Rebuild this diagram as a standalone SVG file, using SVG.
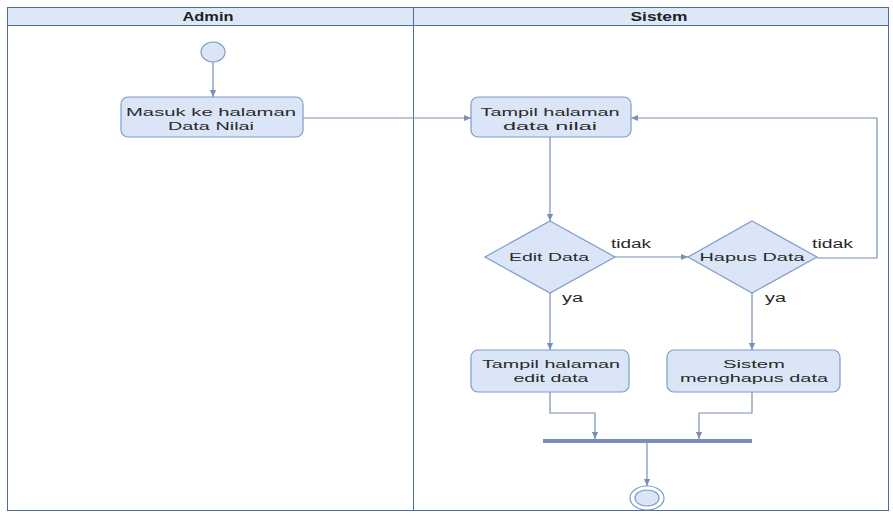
<svg xmlns="http://www.w3.org/2000/svg" width="893" height="516" viewBox="0 0 893 516">
  <style>
    .lane { fill: #ffffff; stroke: #4f6c9a; stroke-width: 1; }
    .head { fill: #dde8f7; stroke: #4f6c9a; stroke-width: 1; }
    .htxt { font-family: "Liberation Sans", Arial, sans-serif; font-size: 12px; font-weight: bold; fill: #222; text-anchor: middle; }
    .node { fill: #dae6f8; stroke: #7f9cc6; stroke-width: 1.2; }
    .txt { font-family: "Liberation Sans", Arial, sans-serif; font-size: 11.5px; fill: #2a2a2a; text-anchor: middle; }
    .lbl { font-family: "Liberation Sans", Arial, sans-serif; font-size: 12px; fill: #2a2a2a; }
    .edge { fill: none; stroke: #7890b4; stroke-width: 1.2; }
    .bar { fill: #7890b4; }
  </style>
  <defs>
    <marker id="arr" viewBox="0 0 10 10" refX="9" refY="5" markerWidth="8" markerHeight="8" orient="auto" markerUnits="userSpaceOnUse">
      <path d="M0,1 L9,5 L0,9 Z" fill="#7890b4"/>
    </marker>
  </defs>

  <!-- swimlanes -->
  <g id="lanes">
    <rect class="lane" x="7.5" y="7.5" width="881" height="503"/>
    <rect class="head" x="7.5" y="7.5" width="881" height="18"/>
    <line x1="413.5" y1="7.5" x2="413.5" y2="510.5" stroke="#4f6c9a" stroke-width="1"/>
    <text class="htxt" x="208" y="21" textLength="51" lengthAdjust="spacingAndGlyphs">Admin</text>
    <text class="htxt" x="659" y="21" textLength="57" lengthAdjust="spacingAndGlyphs">Sistem</text>
  </g>

  <!-- connectors -->
  <g id="connectors">
    <path class="edge" d="M213,62 L213,97" marker-end="url(#arr)"/>
    <path class="edge" d="M303,118 L471,118" marker-end="url(#arr)"/>
    <path class="edge" d="M550,137 L550,221" marker-end="url(#arr)"/>
    <path class="edge" d="M615,257 L688,257" marker-end="url(#arr)"/>
    <path class="edge" d="M817,258 L877,258 L877,118 L631,118" marker-end="url(#arr)"/>
    <path class="edge" d="M550,293 L550,350" marker-end="url(#arr)"/>
    <path class="edge" d="M752,293 L752,350" marker-end="url(#arr)"/>
    <path class="edge" d="M550,392 L550,413 L595,413 L595,439" marker-end="url(#arr)"/>
    <path class="edge" d="M752,392 L752,413 L699,413 L699,439" marker-end="url(#arr)"/>
    <path class="edge" d="M647,443 L647,486" marker-end="url(#arr)"/>
    <text class="lbl" x="611" y="248" textLength="40" lengthAdjust="spacingAndGlyphs">tidak</text>
    <text class="lbl" x="812" y="248" textLength="41" lengthAdjust="spacingAndGlyphs">tidak</text>
    <text class="lbl" x="562" y="302" textLength="21" lengthAdjust="spacingAndGlyphs">ya</text>
    <text class="lbl" x="765" y="302" textLength="21" lengthAdjust="spacingAndGlyphs">ya</text>
  </g>

  <g id="start">
    <ellipse class="node" cx="213" cy="52" rx="12" ry="10"/>
  </g>

  <g id="masuk">
    <rect class="node" x="121" y="97" width="182" height="40" rx="7"/>
    <text class="txt" x="211" y="116" textLength="170" lengthAdjust="spacingAndGlyphs">Masuk ke halaman</text>
    <text class="txt" x="211" y="130" textLength="86" lengthAdjust="spacingAndGlyphs">Data Nilai</text>
  </g>

  <g id="tampil-nilai">
    <rect class="node" x="471" y="97" width="160" height="40" rx="7"/>
    <text class="txt" x="550" y="116" textLength="139" lengthAdjust="spacingAndGlyphs">Tampil halaman</text>
    <text class="txt" x="550" y="130" textLength="94" lengthAdjust="spacingAndGlyphs">data nilai</text>
  </g>

  <g id="edit-data">
    <polygon class="node" points="550,221 615,257 550,293 485,257"/>
    <text class="txt" x="549" y="261" textLength="80" lengthAdjust="spacingAndGlyphs">Edit Data</text>
  </g>

  <g id="hapus-data">
    <polygon class="node" points="752,221 817,257 752,293 688,257"/>
    <text class="txt" x="752" y="261" textLength="105" lengthAdjust="spacingAndGlyphs">Hapus Data</text>
  </g>

  <g id="tampil-edit">
    <rect class="node" x="471" y="350" width="158" height="42" rx="7"/>
    <text class="txt" x="551" y="368" textLength="138" lengthAdjust="spacingAndGlyphs">Tampil halaman</text>
    <text class="txt" x="551" y="382" textLength="75" lengthAdjust="spacingAndGlyphs">edit data</text>
  </g>

  <g id="menghapus">
    <rect class="node" x="667" y="350" width="173" height="42" rx="7"/>
    <text class="txt" x="754" y="368" textLength="62" lengthAdjust="spacingAndGlyphs">Sistem</text>
    <text class="txt" x="754" y="382" textLength="148" lengthAdjust="spacingAndGlyphs">menghapus data</text>
  </g>

  <g id="join">
    <rect class="bar" x="543" y="439" width="209" height="4"/>
  </g>

  <g id="end">
    <ellipse cx="647" cy="498" rx="17" ry="12" fill="#ffffff" stroke="#7f9cc6" stroke-width="1.2"/>
    <ellipse class="node" cx="647" cy="498" rx="12" ry="8"/>
  </g>
</svg>
